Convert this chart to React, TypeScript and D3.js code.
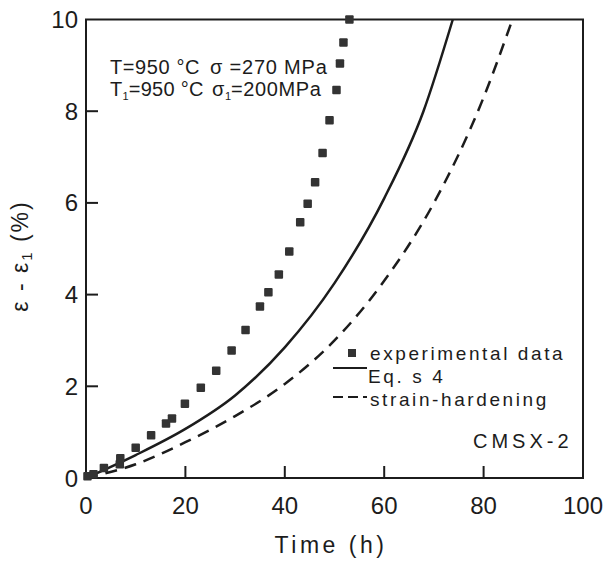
import React from "react";
import * as d3 from "d3";

const expTime = [0.3, 1.5, 3.6, 6.8, 6.9, 10, 13.1, 16.1, 17.3, 19.9, 23.1, 26.2, 29.3, 32.1, 35.0, 36.7, 38.8, 40.9, 43.1, 44.6, 46.1, 47.6, 49.0, 50.4, 51.1, 51.8, 53.0];
const expStrain = [0.04, 0.08, 0.22, 0.30, 0.43, 0.66, 0.93, 1.19, 1.30, 1.62, 1.97, 2.34, 2.78, 3.23, 3.74, 4.05, 4.44, 4.94, 5.58, 5.98, 6.45, 7.09, 7.8, 8.46, 9.04, 9.5, 10.0];

const eqTime = [0, 10, 20, 30, 40, 50, 60, 67.9, 73.8];
const eqStrain = [0, 0.5, 1.07, 1.8, 2.85, 4.25, 6.1, 8.0, 10];

const shTime = [0, 10, 20, 30, 40, 50, 60, 70, 80, 85.8];
const shStrain = [0, 0.3, 0.78, 1.35, 2.05, 3.0, 4.3, 6.0, 8.3, 10];

const xTicks = [0, 20, 40, 60, 80, 100];
const yTicks = [0, 2, 4, 6, 8, 10];

const INK = "#1c1c1c";
const FONT = "'Liberation Sans', Arial, sans-serif";

export default function App() {
  const x = d3.scaleLinear().domain([0, 100]).range([86, 583]);
  const y = d3.scaleLinear().domain([0, 10]).range([478, 19.5]);
  const line = d3
    .line<[number, number]>()
    .x((d) => x(d[0]))
    .y((d) => y(d[1]))
    .curve(d3.curveMonotoneX);
  const eqPts = eqTime.map((t, i) => [t, eqStrain[i]] as [number, number]);
  const shPts = shTime.map((t, i) => [t, shStrain[i]] as [number, number]);
  const sq = 8.5;

  return (
    <svg
      width={604}
      height={565}
      style={{ position: "absolute", left: 0, top: 0, background: "#fff" }}
      fontFamily={FONT}
    >
      <rect x={0} y={0} width={604} height={565} fill="#fff" />
      {/* frame */}
      <rect
        x={x(0)}
        y={y(10)}
        width={x(100) - x(0)}
        height={y(0) - y(10)}
        fill="none"
        stroke={INK}
        strokeWidth={2}
      />
      {/* x ticks */}
      {xTicks.map((t) => (
        <g key={"xt" + t}>
          {t > 0 && t < 100 && (
            <line x1={x(t)} x2={x(t)} y1={y(0)} y2={y(0) - 12} stroke={INK} strokeWidth={2} />
          )}
          <text x={x(t)} y={514} textAnchor="middle" fontSize={24} fill={INK}>
            {t}
          </text>
        </g>
      ))}
      {/* y ticks */}
      {yTicks.map((v) => (
        <g key={"yt" + v}>
          {v > 0 && v < 10 && (
            <line x1={x(0)} x2={x(0) + 12} y1={y(v)} y2={y(v)} stroke={INK} strokeWidth={2} />
          )}
          <text x={78} y={y(v) + 8.5} textAnchor="end" fontSize={24} fill={INK}>
            {v}
          </text>
        </g>
      ))}
      {/* axis titles */}
      <text x={331} y={553} textAnchor="middle" fontSize={23} fill={INK} letterSpacing={3.5}>
        Time  (h)
      </text>
      <text
        transform="translate(28,256) rotate(-90)"
        textAnchor="middle"
        fontSize={23}
        fill={INK}
        letterSpacing={2}
      >
        ε - ε<tspan fontSize={15} dy={4}>1</tspan>
        <tspan dy={-4}> (%)</tspan>
      </text>
      {/* curves */}
      <path d={line(eqPts) || ""} fill="none" stroke={INK} strokeWidth={2.5} />
      <path
        d={line(shPts) || ""}
        fill="none"
        stroke={INK}
        strokeWidth={2.5}
        strokeDasharray="12,8"
      />
      {/* experimental squares */}
      {expTime.map((t, i) => (
        <rect
          key={"p" + i}
          x={x(t) - sq / 2}
          y={y(expStrain[i]) - sq / 2}
          width={sq}
          height={sq}
          fill="#333"
          rx={1}
        />
      ))}
      {/* annotations */}
      <text x={110} y={74} fontSize={20} fill={INK} letterSpacing={0.6}>
        T=950 °C
      </text>
      <text x={210} y={74} fontSize={20} fill={INK} letterSpacing={0.8}>
        σ =270 MPa
      </text>
      <text x={110} y={96} fontSize={20} fill={INK} letterSpacing={0.3}>
        T<tspan fontSize={11} dy={4} letterSpacing={0}>1</tspan>
        <tspan dy={-4}>=950 °C</tspan>
      </text>
      <text x={212} y={96} fontSize={20} fill={INK} letterSpacing={0.6}>
        σ<tspan fontSize={11} dy={4} letterSpacing={0}>1</tspan>
        <tspan dy={-4}>=200MPa</tspan>
      </text>
      {/* legend */}
      <rect x={348} y={349} width={8} height={8} fill="#333" />
      <text x={370} y={360} fontSize={19} fill={INK} letterSpacing={2.6}>
        experimental data
      </text>
      <line x1={333} x2={367} y1={368} y2={368} stroke={INK} strokeWidth={2.2} />
      <text x={368} y={383} fontSize={19} fill={INK} letterSpacing={2.6}>
        Eq. s 4
      </text>
      <line
        x1={333}
        x2={367}
        y1={397}
        y2={397}
        stroke={INK}
        strokeWidth={2.2}
        strokeDasharray="10,5"
      />
      <text x={370} y={406} fontSize={19} fill={INK} letterSpacing={2.6}>
        strain-hardening
      </text>
      <text x={473} y={448} fontSize={20} fill={INK} letterSpacing={4}>
        CMSX-2
      </text>
    </svg>
  );
}
